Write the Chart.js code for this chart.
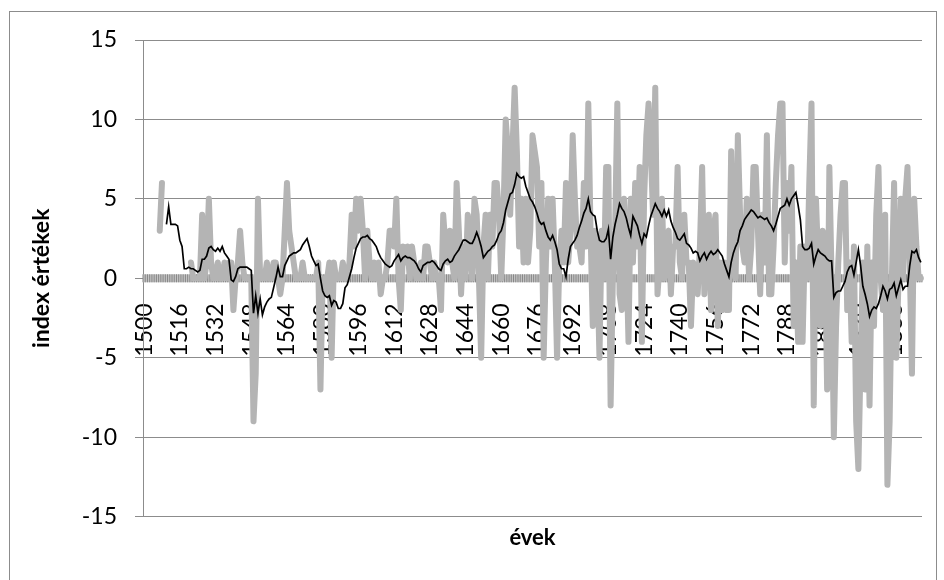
<!DOCTYPE html>
<html>
<head>
<meta charset="utf-8">
<script src="https://cdn.jsdelivr.net/npm/chart.js@4.4.1/dist/chart.umd.min.js"></script>
<style>
  html, body { margin: 0; padding: 0; background: #fff; overflow: hidden; }
  #wrap { position: relative; width: 944px; height: 580px; }
  #frame { position: absolute; left: 9px; top: 11px; width: 926px; height: 600px; border: 1px solid #8c8c8c; }
  canvas { position: absolute; left: 0; top: 0; }
</style>
</head>
<body>
<div id="wrap">
  <div id="frame"></div>
  <canvas id="Chart" width="944" height="580"></canvas>
</div>
<script>
// x-axis: one category per year, 1500..1848
var firstYear = 1500;
var lastYear = 1848;
var years = [];
for (var y = firstYear; y <= lastYear; y++) years.push(y);

// years that get a label on the axis
var tickYears = [1500,1516,1532,1548,1564,1580,1596,1612,1628,1644,1660,1676,
                 1692,1708,1724,1740,1756,1772,1788,1804,1820,1836];

// yearly index values (gray line), one row per decade
var indexValues = [
  null,null,null,null,null,null,null,3,6,null,          // 1500
  null,null,null,null,null,null,null,null,null,null,    // 1510
  null,1,0,0,0,0,4,0,1,5,        // 1520
  1,0,0,1,0,0,1,0,1,1,           // 1530
  -2,0,1,3,1,0,0,0,0,-9,         // 1540
  -6,5,0,0,0,1,0,0,1,1,          // 1550
  0,-1,0,3,6,3,2,1,0,0,          // 1560
  0,1,0,0,0,0,0,0,1,-7,          // 1570
  0,-1,0,1,-5,1,0,0,0,1,         // 1580
  0,0,1,4,2,5,3,5,3,0,           // 1590
  3,1,0,1,0,1,-1,0,0,1,          // 1600
  3,3,2,5,0,-2,2,1,2,0,          // 1610
  2,1,0,0,1,0,2,2,1,0,           // 1620
  1,0,0,-2,4,2,1,3,1,0,          // 1630
  6,3,-1,2,0,4,3,0,5,4,          // 1640
  0,-5,2,4,0,4,2,6,6,4,          // 1650
  0,4,10,8,4,8,12,8,2,5,         // 1660
  1,5,1,3,9,8,7,2,6,-5,          // 1670
  1,5,2,5,1,-5,1,3,1,6,          // 1680
  1,3,9,5,2,2,1,6,2,11,          // 1690
  3,-3,3,1,-5,3,0,7,7,-8,        // 1700
  0,3,11,-1,-2,5,2,-4,5,1,       // 1710
  6,2,7,-4,5,9,11,8,4,12,        // 1720
  -1,1,5,0,2,3,-1,2,2,7,         // 1730
  1,0,4,1,1,-3,1,0,-1,2,         // 1740
  7,-1,2,4,-2,3,4,-3,1,-2,       // 1750
  1,-2,-2,8,1,0,9,4,2,1,         // 1760
  5,0,2,7,7,3,-1,4,1,9,          // 1770
  -1,-1,2,6,9,11,11,1,6,3,       // 1780
  7,-3,1,-4,2,-4,2,0,6,11,       // 1790
  -8,5,1,-3,3,2,-7,7,0,-10,      // 1800
  -3,1,4,6,6,-2,1,-4,2,-9,       // 1810
  -12,-5,1,-7,2,-8,1,-3,4,7,     // 1820
  0,-2,4,-13,-9,0,6,-5,0,5,      // 1830
  0,5,7,1,-6,5,2,0,0             // 1840
];

// moving average (black line)
var movingAvg = [
  null,null,null,null,null,null,null,null,null,null,   // 1500
  3.4,4.5,3.4,3.4,3.4,3.3,2.4,2.0,0.6,0.6,            // 1510
  0.7,0.6,0.6,0.5,0.4,0.5,1.2,1.2,1.4,1.9,            // 1520
  2.0,1.8,1.7,1.9,1.7,2.0,1.6,1.4,1.2,-0.1,           // 1530
  -0.2,0.1,0.6,0.7,0.7,0.7,0.7,0.6,0.5,-2.2,          // 1540
  -1.1,-2.2,-1.3,-2.3,-1.8,-1.5,-1.3,-1.2,-0.6,0.0,   // 1550
  0.7,0.1,0.1,0.8,1.1,1.4,1.5,1.6,1.6,1.7,            // 1560
  1.8,2.1,2.3,2.5,2.0,1.4,1.1,0.8,0.9,0.0,            // 1570
  -0.8,-1.1,-1.2,-1.1,-1.7,-1.4,-1.5,-1.9,-1.9,-1.6,  // 1580
  -0.6,-0.4,0.1,0.6,1.3,1.9,2.2,2.5,2.6,2.6,          // 1590
  2.7,2.5,2.4,2.2,2.0,1.6,1.3,1.1,0.9,0.8,            // 1600
  0.7,0.8,1.1,1.3,1.5,1.1,1.3,1.4,1.3,1.3,            // 1610
  1.2,1.1,0.9,0.6,0.4,0.8,0.9,1.0,1.0,1.1,            // 1620
  1.0,0.8,0.6,0.5,0.9,1.1,1.2,1.0,1.1,1.4,            // 1630
  1.6,1.8,2.1,2.4,2.4,2.3,2.2,2.2,2.5,2.9,            // 1640
  2.5,2.0,1.3,1.5,1.7,1.8,2.0,2.1,2.4,2.8,            // 1650
  3.0,3.5,4.3,4.8,5.3,5.4,5.9,6.6,6.4,6.3,            // 1660
  6.4,5.8,5.4,5.0,4.8,4.5,4.1,3.6,3.4,3.5,            // 1670
  3.0,2.6,2.4,2.7,2.3,1.8,0.9,0.6,0.6,0.1,            // 1680
  1.2,2.0,2.2,2.4,2.7,3.2,3.6,4.1,4.4,5.0,            // 1690
  4.2,4.0,3.9,3.0,2.4,2.3,2.3,2.5,3.1,1.2,            // 1700
  2.6,3.4,4.0,4.7,4.4,4.2,3.8,3.2,2.7,3.9,            // 1710
  3.6,3.3,2.7,2.2,2.8,2.6,3.3,3.9,4.3,4.7,            // 1720
  4.4,4.2,3.9,4.3,3.9,4.3,3.6,3.2,2.9,2.5,            // 1730
  2.4,2.6,2.8,2.2,2.1,1.9,1.6,1.7,1.6,1.1,            // 1740
  1.4,1.6,1.2,1.5,1.7,1.5,1.6,1.8,1.6,1.4,            // 1750
  0.9,0.5,0.1,1.0,1.6,2.0,2.3,3.0,3.3,3.7,            // 1760
  3.9,4.1,4.3,4.2,4.0,3.8,3.9,3.8,3.7,3.8,            // 1770
  3.5,3.3,3.0,3.4,3.9,4.4,4.5,4.6,5.0,4.6,            // 1780
  5.0,5.2,5.4,4.6,3.7,2.0,1.8,1.8,1.9,2.2,            // 1790
  0.9,1.4,1.8,1.6,1.5,1.4,1.2,1.1,1.1,-1.2,           // 1800
  -0.9,-0.8,-0.8,-0.5,-0.2,0.4,0.7,0.8,0.2,1.0,       // 1810
  1.8,0.8,-0.5,-1.0,-1.6,-2.4,-2.0,-1.8,-1.9,-1.6,    // 1820
  -1.1,-0.5,-0.8,-1.3,-0.7,-0.6,-0.3,-1.1,-0.6,-0.1,  // 1830
  -0.7,-0.5,-0.5,0.8,1.7,1.6,1.8,1.3,1.0              // 1840
];

Chart.defaults.font.family = 'Lato';
Chart.defaults.color = '#000';

// tick marks crossing the x axis (one per category), like the excel original
var crossTicks = {
  id: 'crossTicks',
  beforeDatasetsDraw: function (chart) {
    var xs = chart.scales.x, ys = chart.scales.y, ctx = chart.ctx;
    var y0 = ys.getPixelForValue(0);
    var half = (xs.getPixelForValue(1) - xs.getPixelForValue(0)) / 2;
    ctx.save();
    ctx.fillStyle = '#c4c4c4';
    ctx.fillRect(xs.left, y0 - 4, xs.right - xs.left, 8);
    ctx.strokeStyle = '#868686';
    ctx.lineWidth = 1;
    ctx.beginPath();
    for (var i = 0; i <= years.length; i++) {
      var px = xs.getPixelForValue(i) - half;
      ctx.moveTo(px, y0 - 4);
      ctx.lineTo(px, y0 + 4);
    }
    ctx.stroke();
    ctx.restore();
  }
};

var ctx = document.getElementById("Chart");
var myChart = new Chart(ctx, {
  type: 'line',
  data: {
    labels: years,
    datasets: [
      {
        data: movingAvg,
        borderColor: '#000000',
        borderWidth: 1.7,
        pointRadius: 0,
        tension: 0,
        order: 0
      },
      {
        data: indexValues,
        borderColor: '#b4b4b4',
        borderWidth: 6,
        borderCapStyle: 'round',
        borderJoinStyle: 'round',
        pointRadius: 0,
        tension: 0,
        spanGaps: false,
        order: 1
      }
    ]
  },
  plugins: [crossTicks],
  options: {
    responsive: false,
    animation: false,
    devicePixelRatio: 1,
    layout: { padding: { left: 0, top: 40, right: 22, bottom: 29 } },
    plugins: {
      legend: { display: false },
      tooltip: { enabled: false },
      title: {
        display: true,
        text: 'évek',
        position: 'bottom',
        fullSize: false,
        color: '#000',
        font: { size: 22, weight: 'bold' },
        padding: { top: 8, bottom: 0 }
      }
    },
    scales: {
      x: {
        type: 'category',
        position: { y: 0 },
        offset: true,
        grid: { display: false, offset: true },
        border: { display: true, color: '#8c8c8c', width: 1 },
        ticks: {
          autoSkip: false,
          minRotation: 90,
          maxRotation: 90,
          padding: 17,
          font: { size: 23 },
          color: '#000',
          callback: function (v, i) {
            return tickYears.indexOf(years[i]) >= 0 ? String(years[i]) : '';
          }
        },
        afterFit: function (scale) {
          scale.height = 0;
          scale.paddingLeft = 0;
          scale.paddingRight = 0;
        }
      },
      y: {
        min: -15,
        max: 15,
        ticks: { stepSize: 5, padding: 18, font: { size: 23 }, color: '#000' },
        grid: { color: '#8c8c8c', lineWidth: 1, drawTicks: true, tickLength: 8, tickColor: '#8c8c8c' },
        border: { color: '#8c8c8c', width: 1 },
        title: {
          display: true,
          text: 'index értékek',
          color: '#000',
          font: { size: 23, weight: 'bold' },
          padding: { top: 28, bottom: 0 }
        },
        afterFit: function (scale) { scale.width = 143; }
      }
    }
  }
});
</script>
</body>
</html>
